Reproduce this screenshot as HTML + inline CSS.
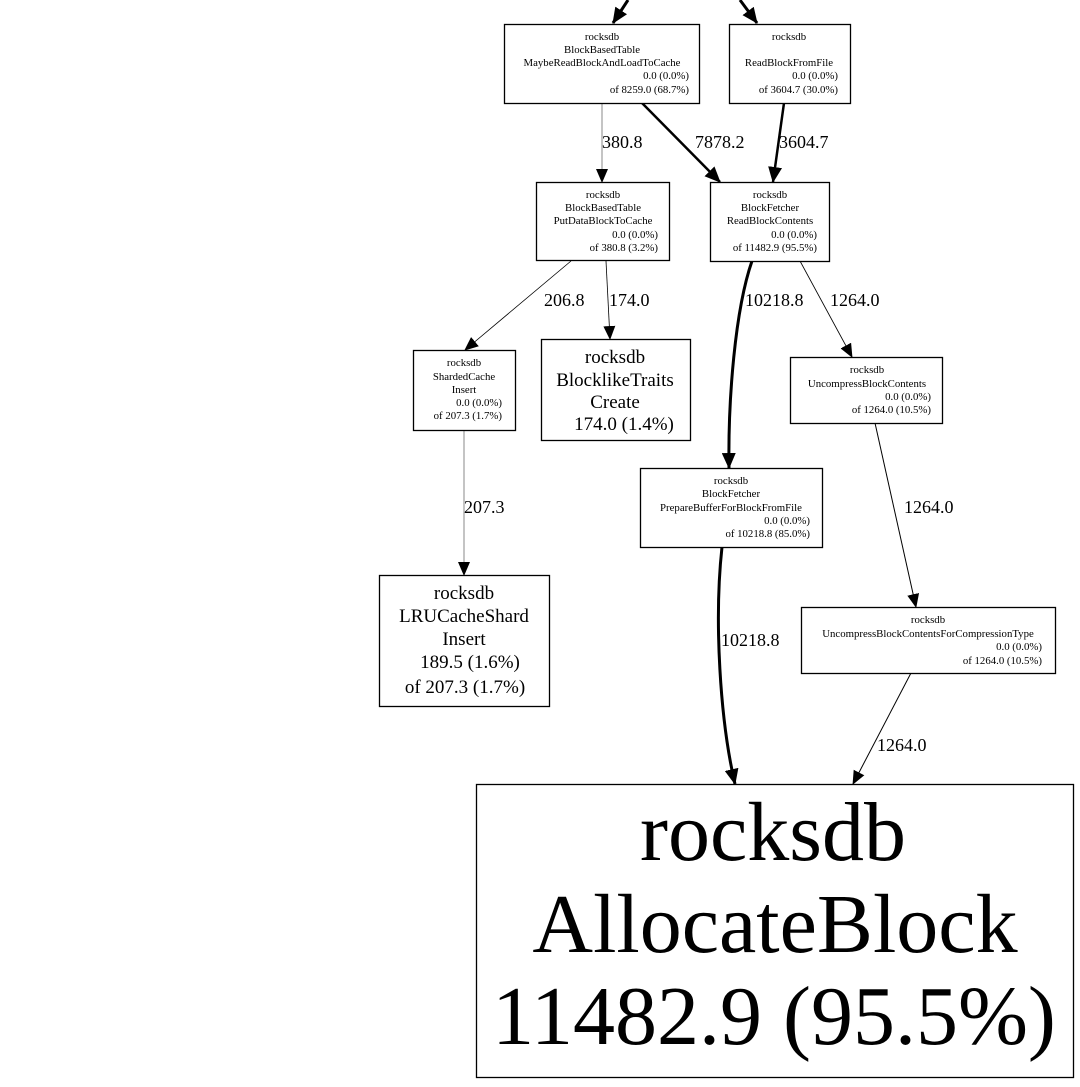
<!DOCTYPE html>
<html><head><meta charset="utf-8"><style>
html,body{margin:0;padding:0;background:#fff;}
svg{display:block;font-family:"Liberation Serif",serif;}
</style></head><body>
<svg width="1080" height="1087" viewBox="0 0 1080 1087" xmlns="http://www.w3.org/2000/svg">
<defs>
<marker id="a" markerUnits="userSpaceOnUse" markerWidth="14" markerHeight="12" refX="13" refY="6" orient="auto"><path d="M0,0 L14,6 L0,12 z" fill="#000"/></marker>
<marker id="ab" markerUnits="userSpaceOnUse" markerWidth="16" markerHeight="14" refX="15" refY="7" orient="auto"><path d="M0,0 L16,7 L0,14 z" fill="#000"/></marker>
</defs>
<rect width="1080" height="1087" fill="#fff"/>
<g fill="none" stroke="#000">
<path d="M628,0 L613,23" stroke-width="3" marker-end="url(#ab)"/>
<path d="M740,0 L757,23" stroke-width="3" marker-end="url(#ab)"/>
<path d="M602,103 L602,182" stroke="#888" stroke-width="1" marker-end="url(#a)"/>
<path d="M642,103 L720,182" stroke-width="2.5" marker-end="url(#ab)"/>
<path d="M784,103 L773,182" stroke-width="2.5" marker-end="url(#ab)"/>
<path d="M571,261 L465,350" stroke-width="0.8" marker-end="url(#a)"/>
<path d="M606,261 L610,339" stroke-width="0.8" marker-end="url(#a)"/>
<path d="M752,261 C735,310 728,400 729,468" stroke-width="3" marker-end="url(#ab)"/>
<path d="M800,261 L852,357" stroke-width="0.8" marker-end="url(#a)"/>
<path d="M464,430 L464,575" stroke="#888" stroke-width="1" marker-end="url(#a)"/>
<path d="M875,423 L916,607" stroke-width="1" marker-end="url(#a)"/>
<path d="M722,547 C714,620 720,720 735,784" stroke-width="3" marker-end="url(#ab)"/>
<path d="M911,673 L853,784" stroke-width="1" marker-end="url(#a)"/>
</g>
<g fill="#fff" stroke="#000" stroke-width="1.3">
<rect x="504.5" y="24.5" width="195" height="79"/>
<rect x="729.5" y="24.5" width="121" height="79"/>
<rect x="536.5" y="182.5" width="133" height="78"/>
<rect x="710.5" y="182.5" width="119" height="79"/>
<rect x="413.5" y="350.5" width="102" height="80"/>
<rect x="541.5" y="339.5" width="149" height="101"/>
<rect x="790.5" y="357.5" width="152" height="66"/>
<rect x="640.5" y="468.5" width="182" height="79"/>
<rect x="801.5" y="607.5" width="254" height="66"/>
<rect x="379.5" y="575.5" width="170" height="131"/>
<rect x="476.5" y="784.5" width="597" height="293"/>
</g>
<g font-size="10.8" fill="#000">
<g text-anchor="middle"><text x="602" y="40">rocksdb</text><text x="602" y="53">BlockBasedTable</text><text x="602" y="66">MaybeReadBlockAndLoadToCache</text></g>
<g text-anchor="end"><text x="689" y="79">0.0 (0.0%)</text><text x="689" y="93">of 8259.0 (68.7%)</text></g>
<g text-anchor="middle"><text x="789" y="40">rocksdb</text><text x="789" y="66">ReadBlockFromFile</text></g>
<g text-anchor="end"><text x="838" y="79">0.0 (0.0%)</text><text x="838" y="93">of 3604.7 (30.0%)</text></g>
<g text-anchor="middle"><text x="603" y="198">rocksdb</text><text x="603" y="211">BlockBasedTable</text><text x="603" y="224">PutDataBlockToCache</text></g>
<g text-anchor="end"><text x="658" y="238">0.0 (0.0%)</text><text x="658" y="251">of 380.8 (3.2%)</text></g>
<g text-anchor="middle"><text x="770" y="198">rocksdb</text><text x="770" y="211">BlockFetcher</text><text x="770" y="224">ReadBlockContents</text></g>
<g text-anchor="end"><text x="817" y="238">0.0 (0.0%)</text><text x="817" y="251">of 11482.9 (95.5%)</text></g>
<g text-anchor="middle"><text x="464" y="366">rocksdb</text><text x="464" y="380">ShardedCache</text><text x="464" y="393">Insert</text></g>
<g text-anchor="end"><text x="502" y="406">0.0 (0.0%)</text><text x="502" y="419">of 207.3 (1.7%)</text></g>
<g text-anchor="middle"><text x="867" y="373">rocksdb</text><text x="867" y="387">UncompressBlockContents</text></g>
<g text-anchor="end"><text x="931" y="400">0.0 (0.0%)</text><text x="931" y="413">of 1264.0 (10.5%)</text></g>
<g text-anchor="middle"><text x="731" y="484">rocksdb</text><text x="731" y="497">BlockFetcher</text><text x="731" y="511">PrepareBufferForBlockFromFile</text></g>
<g text-anchor="end"><text x="810" y="524">0.0 (0.0%)</text><text x="810" y="537">of 10218.8 (85.0%)</text></g>
<g text-anchor="middle"><text x="928" y="623">rocksdb</text><text x="928" y="637">UncompressBlockContentsForCompressionType</text></g>
<g text-anchor="end"><text x="1042" y="650">0.0 (0.0%)</text><text x="1042" y="664">of 1264.0 (10.5%)</text></g>
</g>
<g font-size="19" fill="#000" text-anchor="middle">
<text x="615" y="363">rocksdb</text><text x="615" y="386">BlocklikeTraits</text><text x="615" y="408">Create</text><text x="624" y="430">174.0 (1.4%)</text>
<text x="464" y="599">rocksdb</text><text x="464" y="622">LRUCacheShard</text><text x="464" y="645">Insert</text><text x="470" y="668">189.5 (1.6%)</text><text x="465" y="693">of 207.3 (1.7%)</text>
</g>
<g font-size="18" fill="#000">
<text x="602" y="148">380.8</text><text x="695" y="148">7878.2</text><text x="779" y="148">3604.7</text>
<text x="544" y="306">206.8</text><text x="609" y="306">174.0</text><text x="745" y="306">10218.8</text><text x="830" y="306">1264.0</text>
<text x="464" y="513">207.3</text><text x="904" y="513">1264.0</text>
<text x="721" y="646">10218.8</text><text x="877" y="751">1264.0</text>
</g>
<g font-size="84" fill="#000" text-anchor="middle">
<text x="773" y="860">rocksdb</text>
<text x="775" y="952">AllocateBlock</text>
<text x="774" y="1044">11482.9 (95.5%)</text>
</g>
</svg>
</body></html>
